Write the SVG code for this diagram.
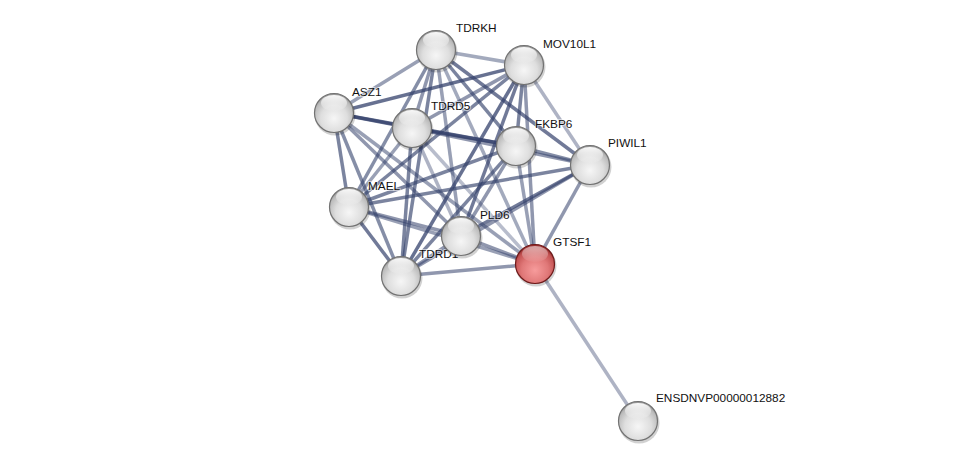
<svg xmlns="http://www.w3.org/2000/svg" width="976" height="465" viewBox="0 0 976 465">
<style>
.e{stroke:#34426c;stroke-width:3.5;fill:none;stroke-linecap:butt}
.lbl{font-family:"Liberation Sans",Arial,sans-serif;font-size:11.8px;fill:#111111;stroke:#ffffff;stroke-width:2;stroke-opacity:0.55;paint-order:stroke}
.sh{fill:#000000;fill-opacity:0.18}
.ball{fill:url(#gw);stroke:#727272;stroke-width:1.2}
.ballr{fill:url(#gr);stroke:#6e1a1a;stroke-width:1.2}
.hl{fill:url(#gh)}
</style>
<defs>
<radialGradient id="gw" cx="0.5" cy="0.64" r="0.62">
<stop offset="0" stop-color="#f6f6f6"/>
<stop offset="0.55" stop-color="#dedede"/>
<stop offset="0.85" stop-color="#bcbcbc"/>
<stop offset="1" stop-color="#969696"/>
</radialGradient>
<radialGradient id="gr" cx="0.5" cy="0.66" r="0.62">
<stop offset="0" stop-color="#f79c9c"/>
<stop offset="0.55" stop-color="#e07878"/>
<stop offset="0.85" stop-color="#c45454"/>
<stop offset="1" stop-color="#9c3030"/>
</radialGradient>
<linearGradient id="gh" x1="0" y1="0" x2="0" y2="1">
<stop offset="0" stop-color="#ffffff" stop-opacity="0.95"/>
<stop offset="1" stop-color="#ffffff" stop-opacity="0.05"/>
</linearGradient>
</defs>
<rect width="976" height="465" fill="#ffffff"/>
<g id="edges">
<line class="e" x1="436" y1="50" x2="524" y2="65" stroke-opacity="0.45"/>
<line class="e" x1="436" y1="50" x2="334" y2="113" stroke-opacity="0.5"/>
<line class="e" x1="436" y1="50" x2="412" y2="128" stroke-opacity="0.55"/>
<line class="e" x1="436" y1="50" x2="516" y2="146" stroke-opacity="0.65"/>
<line class="e" x1="436" y1="50" x2="590" y2="165" stroke-opacity="0.7"/>
<line class="e" x1="436" y1="50" x2="349" y2="207" stroke-opacity="0.6"/>
<line class="e" x1="436" y1="50" x2="461" y2="236" stroke-opacity="0.5"/>
<line class="e" x1="436" y1="50" x2="401" y2="276" stroke-opacity="0.65"/>
<line class="e" x1="436" y1="50" x2="535" y2="264" stroke-opacity="0.45"/>
<line class="e" x1="524" y1="65" x2="334" y2="113" stroke-opacity="0.75"/>
<line class="e" x1="524" y1="65" x2="412" y2="128" stroke-opacity="0.55"/>
<line class="e" x1="524" y1="65" x2="516" y2="146" stroke-opacity="0.65"/>
<line class="e" x1="524" y1="65" x2="590" y2="165" stroke-opacity="0.4"/>
<line class="e" x1="524" y1="65" x2="349" y2="207" stroke-opacity="0.65"/>
<line class="e" x1="524" y1="65" x2="461" y2="236" stroke-opacity="0.7"/>
<line class="e" x1="524" y1="65" x2="401" y2="276" stroke-opacity="0.75"/>
<line class="e" x1="524" y1="65" x2="535" y2="264" stroke-opacity="0.55"/>
<line class="e" x1="334" y1="113" x2="412" y2="128" stroke-opacity="0.75"/>
<line class="e" x1="334" y1="113" x2="516" y2="146" stroke-opacity="0.75"/>
<line class="e" x1="334" y1="113" x2="349" y2="207" stroke-opacity="0.65"/>
<line class="e" x1="334" y1="113" x2="461" y2="236" stroke-opacity="0.55"/>
<line class="e" x1="334" y1="113" x2="401" y2="276" stroke-opacity="0.6"/>
<line class="e" x1="334" y1="113" x2="535" y2="264" stroke-opacity="0.5"/>
<line class="e" x1="412" y1="128" x2="516" y2="146" stroke-opacity="0.7"/>
<line class="e" x1="412" y1="128" x2="590" y2="165" stroke-opacity="0.55"/>
<line class="e" x1="412" y1="128" x2="349" y2="207" stroke-opacity="0.5"/>
<line class="e" x1="412" y1="128" x2="461" y2="236" stroke-opacity="0.4"/>
<line class="e" x1="412" y1="128" x2="401" y2="276" stroke-opacity="0.65"/>
<line class="e" x1="412" y1="128" x2="535" y2="264" stroke-opacity="0.35"/>
<line class="e" x1="516" y1="146" x2="590" y2="165" stroke-opacity="0.6"/>
<line class="e" x1="516" y1="146" x2="349" y2="207" stroke-opacity="0.65"/>
<line class="e" x1="516" y1="146" x2="461" y2="236" stroke-opacity="0.55"/>
<line class="e" x1="516" y1="146" x2="401" y2="276" stroke-opacity="0.65"/>
<line class="e" x1="516" y1="146" x2="535" y2="264" stroke-opacity="0.5"/>
<line class="e" x1="590" y1="165" x2="349" y2="207" stroke-opacity="0.65"/>
<line class="e" x1="590" y1="165" x2="461" y2="236" stroke-opacity="0.7"/>
<line class="e" x1="590" y1="165" x2="401" y2="276" stroke-opacity="0.55"/>
<line class="e" x1="590" y1="165" x2="535" y2="264" stroke-opacity="0.55"/>
<line class="e" x1="349" y1="207" x2="461" y2="236" stroke-opacity="0.55"/>
<line class="e" x1="349" y1="207" x2="401" y2="276" stroke-opacity="0.7"/>
<line class="e" x1="349" y1="207" x2="535" y2="264" stroke-opacity="0.5"/>
<line class="e" x1="461" y1="236" x2="401" y2="276" stroke-opacity="0.55"/>
<line class="e" x1="461" y1="236" x2="535" y2="264" stroke-opacity="0.55"/>
<line class="e" x1="401" y1="276" x2="535" y2="264" stroke-opacity="0.55"/>
<line class="e" x1="535" y1="264" x2="638" y2="421" stroke-opacity="0.4" stroke-width="2.8"/>
</g>
<g id="labels">
<text class="lbl" x="456" y="32">TDRKH</text>
<text class="lbl" x="543" y="48">MOV10L1</text>
<text class="lbl" x="352" y="96">ASZ1</text>
<text class="lbl" x="431" y="110">TDRD5</text>
<text class="lbl" x="535" y="128">FKBP6</text>
<text class="lbl" x="608" y="147">PIWIL1</text>
<text class="lbl" x="368" y="190">MAEL</text>
<text class="lbl" x="480" y="219">PLD6</text>
<text class="lbl" x="419" y="258">TDRD1</text>
<text class="lbl" x="553" y="246">GTSF1</text>
<text class="lbl" x="656" y="402">ENSDNVP00000012882</text>
</g>
<g id="node-TDRKH"><circle class="sh" cx="437" cy="52" r="20.5"/><circle class="ball" cx="436" cy="50" r="19.5"/><ellipse class="hl" cx="436" cy="40" rx="13" ry="8"/></g>
<g id="node-MOV10L1"><circle class="sh" cx="525" cy="67" r="20.5"/><circle class="ball" cx="524" cy="65" r="19.5"/><ellipse class="hl" cx="524" cy="55" rx="13" ry="8"/></g>
<g id="node-ASZ1"><circle class="sh" cx="335" cy="115" r="20.5"/><circle class="ball" cx="334" cy="113" r="19.5"/><ellipse class="hl" cx="334" cy="103" rx="13" ry="8"/></g>
<g id="node-TDRD5"><circle class="sh" cx="413" cy="130" r="20.5"/><circle class="ball" cx="412" cy="128" r="19.5"/><ellipse class="hl" cx="412" cy="118" rx="13" ry="8"/></g>
<g id="node-FKBP6"><circle class="sh" cx="517" cy="148" r="20.5"/><circle class="ball" cx="516" cy="146" r="19.5"/><ellipse class="hl" cx="516" cy="136" rx="13" ry="8"/></g>
<g id="node-PIWIL1"><circle class="sh" cx="591" cy="167" r="20.5"/><circle class="ball" cx="590" cy="165" r="19.5"/><ellipse class="hl" cx="590" cy="155" rx="13" ry="8"/></g>
<g id="node-MAEL"><circle class="sh" cx="350" cy="209" r="20.5"/><circle class="ball" cx="349" cy="207" r="19.5"/><ellipse class="hl" cx="349" cy="197" rx="13" ry="8"/></g>
<g id="node-PLD6"><circle class="sh" cx="462" cy="238" r="20.5"/><circle class="ball" cx="461" cy="236" r="19.5"/><ellipse class="hl" cx="461" cy="226" rx="13" ry="8"/></g>
<g id="node-TDRD1"><circle class="sh" cx="402" cy="278" r="20.5"/><circle class="ball" cx="401" cy="276" r="19.5"/><ellipse class="hl" cx="401" cy="266" rx="13" ry="8"/></g>
<g id="node-GTSF1"><circle class="sh" cx="536" cy="266" r="20.5"/><circle class="ballr" cx="535" cy="264" r="19.5"/><ellipse class="hl" cx="535" cy="254" rx="13" ry="8" opacity="0.6"/></g>
<g id="node-ENSDNVP00000012882"><circle class="sh" cx="639" cy="423" r="20.5"/><circle class="ball" cx="638" cy="421" r="19.5"/><ellipse class="hl" cx="638" cy="411" rx="13" ry="8"/></g>
</svg>
